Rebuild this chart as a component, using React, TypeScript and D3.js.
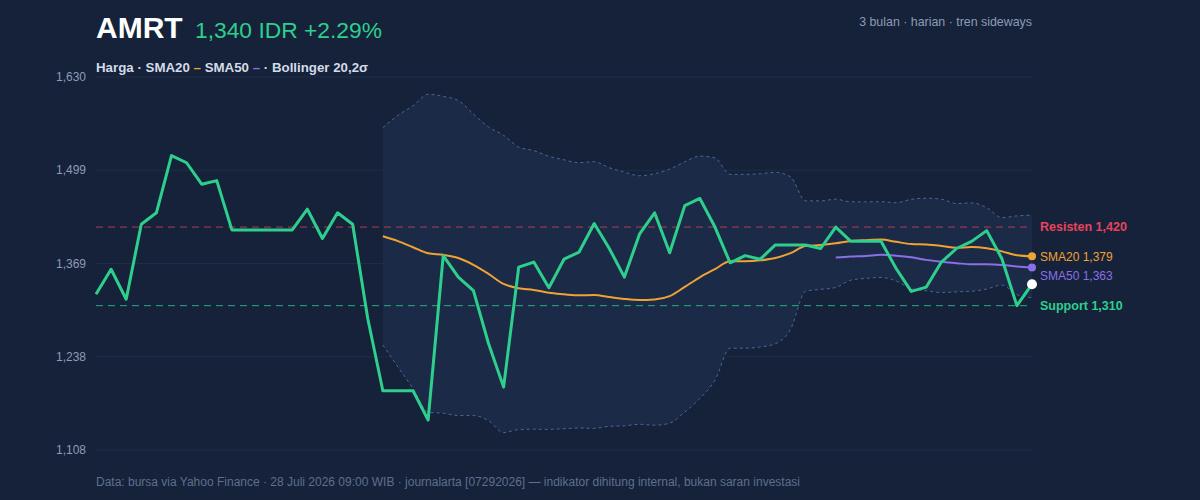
import React from 'react';
import * as d3 from 'd3';

// Daily closes, 63 sessions
const closes = [
  1326, 1361, 1319, 1424, 1440, 1520, 1510, 1480, 1485, 1416,
  1416, 1416, 1416, 1416, 1445, 1404, 1440, 1424, 1292, 1191,
  1191, 1191, 1150, 1380, 1350, 1331, 1257, 1196, 1364, 1371,
  1335, 1375, 1385, 1425, 1390, 1350, 1410, 1440, 1384, 1450,
  1460, 1420, 1370, 1380, 1375, 1395, 1395, 1395, 1390, 1420,
  1400, 1400, 1400, 1362, 1330, 1336, 1371, 1390, 1400, 1415,
  1376, 1310, 1340,
];

const resistance = 1420;
const support = 1310;
const yDomain = [1108, 1630];
const yTicks = [1108, 1238.5, 1369, 1499.5, 1630];
const yTickLabels = ['1,108', '1,238', '1,369', '1,499', '1,630'];

const W = 1200;
const H = 500;
const left = 96;
const right = 1032;
const top = 77;
const bottom = 450;

const C = {
  bg: '#15223a',
  grid: '#1e2c47',
  band: '#1b2a47',
  bandLine: '#4d6596',
  price: '#2ecf8d',
  sma20: '#efa333',
  sma50: '#8b6fe6',
  res: '#e8435a',
  text: '#d3dbe8',
  muted: '#8d9bb4',
  foot: '#5f6f8c',
};

const FONT = '"Liberation Sans", Arial, Helvetica, sans-serif';

type Pt = { i: number; v: number };

const sma = (n: number): Pt[] =>
  closes
    .map((_, i) => (i < n - 1 ? null : { i, v: d3.mean(closes.slice(i - n + 1, i + 1)) as number }))
    .filter(Boolean) as Pt[];

const bollinger = () =>
  closes
    .map((_, i) => {
      if (i < 19) return null;
      const win = closes.slice(i - 19, i + 1);
      const m = d3.mean(win) as number;
      const sd = Math.sqrt(d3.mean(win.map((c) => (c - m) ** 2)) as number);
      return { i, up: m + 2 * sd, lo: m - 2 * sd };
    })
    .filter(Boolean) as { i: number; up: number; lo: number }[];

const fmt = d3.format(',.0f');

export default function App() {
  const x = d3.scaleLinear().domain([0, closes.length - 1]).range([left, right]);
  const y = d3.scaleLinear().domain(yDomain).range([bottom, top]);

  const s20 = sma(20);
  const s50 = sma(50);
  const bb = bollinger();

  const line = d3.line<Pt>().x((d) => x(d.i)).y((d) => y(d.v));
  const smooth = d3.line<Pt>().x((d) => x(d.i)).y((d) => y(d.v)).curve(d3.curveMonotoneX);
  const area = d3
    .area<{ i: number; up: number; lo: number }>()
    .x((d) => x(d.i))
    .y0((d) => y(d.lo))
    .y1((d) => y(d.up))
    .curve(d3.curveMonotoneX);

  const pricePts = closes.map((v, i) => ({ i, v }));
  const last = closes.length - 1;
  const prev = closes[last - 1];
  const change = ((closes[last] - prev) / prev) * 100;
  const s20Last = s20[s20.length - 1].v;
  const s50Last = s50[s50.length - 1].v;

  // right-hand labels, pushed apart so they don't collide
  const labels = [
    { text: `Resisten ${fmt(resistance)}`, v: resistance, color: C.res, bold: true },
    { text: `SMA20 ${fmt(s20Last)}`, v: s20Last, color: C.sma20, bold: false },
    { text: `SMA50 ${fmt(s50Last)}`, v: s50Last, color: C.sma50, bold: false },
    { text: `Support ${fmt(support)}`, v: support, color: C.price, bold: true },
  ];
  let prevY = -Infinity;
  const placed = labels.map((l) => {
    const ly = Math.max(y(l.v), prevY + 19);
    prevY = ly;
    return { ...l, ly };
  });

  return (
    <svg width={W} height={H} style={{ display: 'block', position: 'absolute', left: 0, top: 0 }} fontFamily={FONT}>
      <rect width={W} height={H} fill={C.bg} />

      {/* title */}
      <text x={96} y={38} fontSize={30} fontWeight="bold" fill="#ffffff">AMRT</text>
      <text x={195} y={38} fontSize={22.8} fill={C.price}>
        {`${fmt(closes[last])} IDR ${change >= 0 ? '+' : ''}${change.toFixed(2)}%`}
      </text>
      <text x={right} y={26} fontSize={12.4} fill={C.muted} textAnchor="end">3 bulan · harian · tren sideways</text>

      {/* legend */}
      <text x={96} y={72} fontSize={13.3} fontWeight="bold" fill={C.text}>
        Harga · SMA20 <tspan fill={C.sma20} fontWeight="900">–</tspan> SMA50 <tspan fill={C.sma50} fontWeight="900">–</tspan> · Bollinger 20,2σ
      </text>

      {/* grid + y axis */}
      {yTicks.map((t, k) => (
        <g key={t}>
          <line x1={left} x2={right} y1={y(t)} y2={y(t)} stroke={C.grid} strokeWidth={1} />
          <text x={86} y={y(t)} dy="0.35em" fontSize={12} fill={C.muted} textAnchor="end">
            {yTickLabels[k]}
          </text>
        </g>
      ))}

      {/* bollinger band */}
      <path d={area(bb) as string} fill={C.band} />
      <path
        d={smooth(bb.map((d) => ({ i: d.i, v: d.up }))) as string}
        fill="none"
        stroke={C.bandLine}
        strokeWidth={1}
        strokeDasharray="3,3"
      />
      <path
        d={smooth(bb.map((d) => ({ i: d.i, v: d.lo }))) as string}
        fill="none"
        stroke={C.bandLine}
        strokeWidth={1}
        strokeDasharray="3,3"
      />

      {/* support / resistance */}
      <line x1={left} x2={right} y1={y(resistance)} y2={y(resistance)} stroke={C.res} strokeOpacity={0.75} strokeDasharray="7,5" />
      <line x1={left} x2={right} y1={y(support)} y2={y(support)} stroke={C.price} strokeOpacity={0.8} strokeDasharray="7,5" />

      {/* moving averages */}
      <path d={smooth(s20) as string} fill="none" stroke={C.sma20} strokeWidth={2} />
      <path d={smooth(s50) as string} fill="none" stroke={C.sma50} strokeWidth={2} />

      {/* price */}
      <path d={line(pricePts) as string} fill="none" stroke={C.price} strokeWidth={3} strokeLinejoin="round" />

      <circle cx={x(last)} cy={y(s20Last)} r={4} fill={C.sma20} />
      <circle cx={x(last)} cy={y(s50Last)} r={4} fill={C.sma50} />
      <circle cx={x(last)} cy={y(closes[last])} r={5} fill="#ffffff" />

      {placed.map((l) => (
        <text
          key={l.text}
          x={1040}
          y={l.ly}
          dy="0.35em"
          fontSize={l.bold ? 12.5 : 12}
          fontWeight={l.bold ? 'bold' : 'normal'}
          fill={l.color}
        >
          {l.text}
        </text>
      ))}

      {/* footer */}
      <text x={96} y={486} fontSize={12} fill={C.foot}>
        Data: bursa via Yahoo Finance · 28 Juli 2026 09:00 WIB · journalarta [07292026] — indikator dihitung internal, bukan saran investasi
      </text>
    </svg>
  );
}
